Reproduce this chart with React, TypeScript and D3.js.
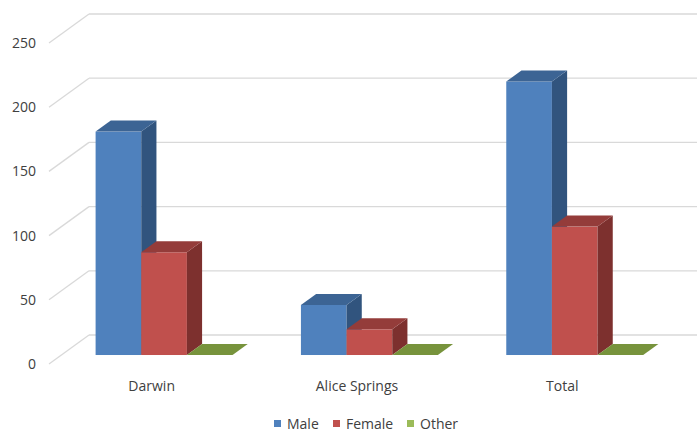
import * as d3 from 'd3';

const categories = ['Darwin', 'Alice Springs', 'Total'];
const seriesNames = ['Male', 'Female', 'Other'];
const male = [174, 39, 213];
const female = [80, 20, 100];
const other = [0, 0, 0];
const yTicks = [0, 50, 100, 150, 200, 250];

const W = 697;
const H = 432;
const FONT = '"Open Sans", "Noto Sans", sans-serif';

// oblique 3D: full depth of the floor
const DEPTH_X = 40;
const DEPTH_Y = 29;
const Z0 = 0.31;
const Z1 = 0.69;

const colors = [
  { front: '#4f81bd', top: '#3c6494', side: '#31547e', legend: '#4f81bd' },
  { front: '#c0504d', top: '#943c3a', side: '#7d302e', legend: '#c0504d' },
  { front: '#9bbb59', top: '#77933c', side: '#627a31', legend: '#9bbb59' },
];

export default function App() {
  const values = [male, female, other];

  const x0 = d3.scaleBand<string>().domain(categories).range([49, 665]);
  const x1 = d3.scaleBand<string>()
    .domain(seriesNames)
    .range([34.2, x0.bandwidth() - 34.2]);
  const y = d3.scaleLinear().domain([0, 250]).range([364, 43]);

  const pt = (px: number, py: number, z: number) => [px + z * DEPTH_X, py - z * DEPTH_Y];
  const poly = (pts: number[][]) => pts.map(p => p.join(',')).join(' ');

  return (
    <svg
      width={W}
      height={H}
      style={{ position: 'absolute', left: 0, top: 0, background: '#fff' }}
      fontFamily={FONT}
    >
      {/* gridlines: diagonal on the side wall + horizontal on the back wall */}
      {yTicks.map(t => {
        const [bx, by] = pt(49, y(t), 1);
        return (
          <g key={t}>
            <line x1={49} y1={y(t)} x2={bx} y2={by} stroke="#d9d9d9" strokeWidth={1.3} />
            <line x1={bx} y1={by} x2={W} y2={by} stroke="#d9d9d9" strokeWidth={1.3} />
            <text x={36} y={y(t)} dy="0.35em" textAnchor="end" fontSize={14} fill="#404040">
              {t}
            </text>
          </g>
        );
      })}

      {/* bars */}
      {categories.map((c, ci) => (
        <g key={c}>
          {seriesNames.map((s, si) => {
            const v = values[si][ci];
            const fx0 = (x0(c) ?? 0) + (x1(s) ?? 0);
            const fx1 = fx0 + x1.bandwidth();
            const [ax0, yB] = pt(fx0, y(0), Z0);
            const [ax1] = pt(fx1, y(0), Z0);
            const yT = pt(fx0, y(v), Z0)[1];
            const dx = (Z1 - Z0) * DEPTH_X;
            const dy = (Z1 - Z0) * DEPTH_Y;
            const col = colors[si];
            return (
              <g key={s}>
                {v > 0 && (
                  <>
                    <rect x={ax0} y={yT} width={ax1 - ax0} height={yB - yT} fill={col.front} />
                    <polygon
                      points={poly([[ax1, yT], [ax1 + dx, yT - dy], [ax1 + dx, yB - dy], [ax1, yB]])}
                      fill={col.side}
                    />
                  </>
                )}
                <polygon
                  points={poly([[ax0, yT], [ax1, yT], [ax1 + dx, yT - dy], [ax0 + dx, yT - dy]])}
                  fill={col.top}
                />
              </g>
            );
          })}
          <text
            x={(x0(c) ?? 0) + x0.bandwidth() / 2}
            y={386}
            dy="0.35em"
            textAnchor="middle"
            fontSize={14}
            fill="#404040"
          >
            {c}
          </text>
        </g>
      ))}

      {/* legend */}
      {seriesNames.map((s, i) => {
        const lx = [274, 333, 407][i];
        return (
          <g key={s}>
            <rect x={lx} y={420} width={7} height={7} fill={colors[i].legend} />
            <text x={lx + 13} y={424} dy="0.35em" fontSize={14} fill="#404040">
              {s}
            </text>
          </g>
        );
      })}
    </svg>
  );
}
